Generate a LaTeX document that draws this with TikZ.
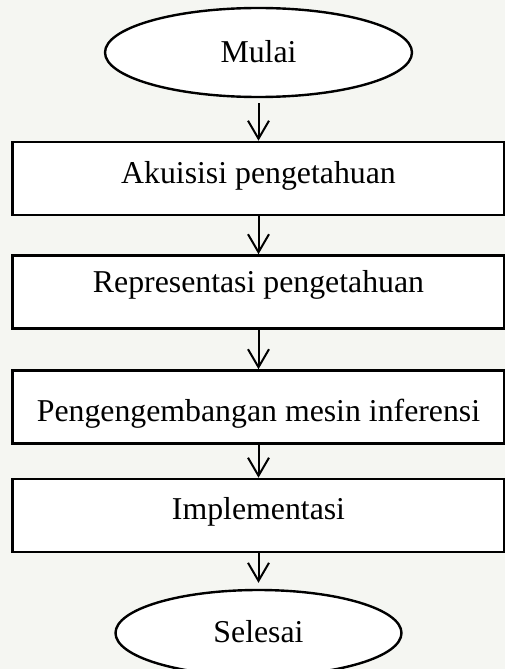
\documentclass[tikz,border=0pt]{standalone}
\usepackage{fontspec}
\setmainfont{Liberation Serif}
\usetikzlibrary{shapes.geometric,arrows.meta}
\definecolor{latar}{RGB}{245,246,242}

\begin{document}
\begin{tikzpicture}[x=1pt,y=-1pt,
		huruf/.style={font=\fontsize{31.8}{38}\selectfont,text height=21.7pt,text depth=6.9pt},
		kotak/.style={huruf,draw,fill=white,line width=2.6pt,minimum width=492pt,minimum height=73pt,inner sep=0pt},
		oval/.style={huruf,ellipse,draw,fill=white,line width=2.4pt,inner sep=0pt},
		panah/.style={line width=2pt,-{Straight Barb[length=18pt,width=21pt]}}]
		\fill[latar] (0,0) rectangle (505,669);
		\useasboundingbox (0,0) rectangle (505,669);
		\node[oval,minimum width=307pt,minimum height=89pt,text height=27pt] (mulai) at (258.5,52.5) {Mulai};
		\node[kotak,text depth=11pt] (akuisisi) at (258.5,178.5) {Akuisisi pengetahuan};
		\node[kotak,text depth=20pt] (representasi) at (258.5,292) {Representasi pengetahuan};
		\node[kotak,text height=35pt] (inferensi) at (258.5,407) {Pengengembangan mesin inferensi};
		\node[kotak,text depth=13pt] (implementasi) at (258.5,515.5) {Implementasi};
		\node[oval,minimum width=286pt,minimum height=86pt,text height=26pt] (selesai) at (258.5,633) {Selesai};
		\draw[panah,shorten <=5pt] (mulai) -- (akuisisi);
		\draw[panah] (akuisisi) -- (representasi);
		\draw[panah] (representasi) -- (inferensi);
		\draw[panah] (inferensi) -- (implementasi);
		\draw[panah,shorten >=6pt] (implementasi) -- (selesai);
	\end{tikzpicture}
\end{document}
